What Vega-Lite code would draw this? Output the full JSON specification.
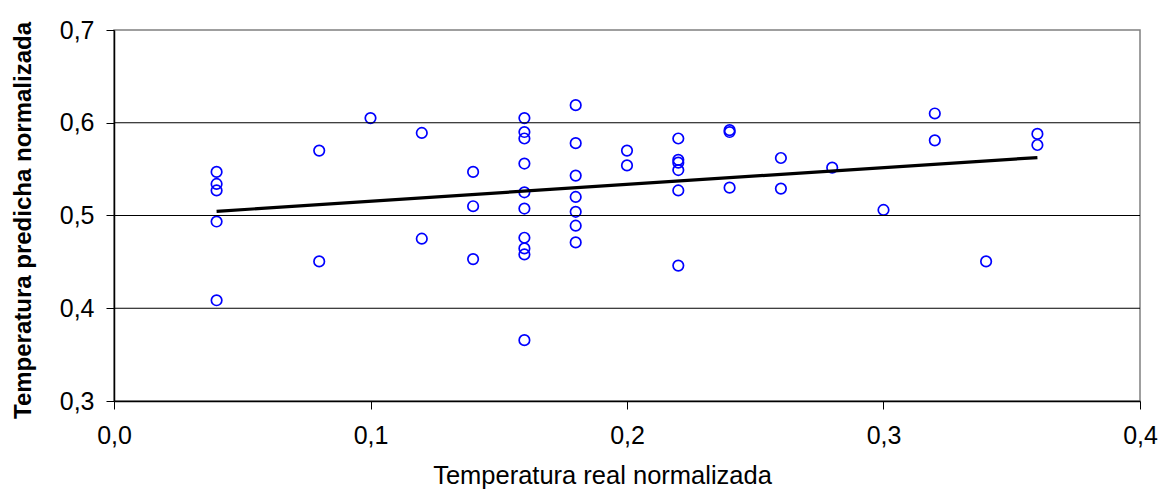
{
  "$schema": "https://vega.github.io/schema/vega-lite/v6.json",
  "width": 1026,
  "height": 371,
  "autosize": {"type": "none"},
  "padding": {"left": 114, "top": 30, "right": 22, "bottom": 90},
  "background": "white",
  "config": {
    "view": {"stroke": "#808080", "strokeWidth": 1.5},
    "font": "Liberation Sans"
  },
  "layer": [
    {
      "data": {"values": [
        {"real": 0.04, "pred": 0.547}, {"real": 0.04, "pred": 0.534}, {"real": 0.04, "pred": 0.527}, {"real": 0.04, "pred": 0.4935}, {"real": 0.04, "pred": 0.4086},
        {"real": 0.08, "pred": 0.570}, {"real": 0.08, "pred": 0.4505},
        {"real": 0.10, "pred": 0.605},
        {"real": 0.12, "pred": 0.589}, {"real": 0.12, "pred": 0.475},
        {"real": 0.14, "pred": 0.547}, {"real": 0.14, "pred": 0.510}, {"real": 0.14, "pred": 0.453},
        {"real": 0.16, "pred": 0.605}, {"real": 0.16, "pred": 0.590}, {"real": 0.16, "pred": 0.583}, {"real": 0.16, "pred": 0.556}, {"real": 0.16, "pred": 0.525}, {"real": 0.16, "pred": 0.5075}, {"real": 0.16, "pred": 0.476}, {"real": 0.16, "pred": 0.4645}, {"real": 0.16, "pred": 0.458}, {"real": 0.16, "pred": 0.3656},
        {"real": 0.18, "pred": 0.619}, {"real": 0.18, "pred": 0.578}, {"real": 0.18, "pred": 0.543}, {"real": 0.18, "pred": 0.520}, {"real": 0.18, "pred": 0.504}, {"real": 0.18, "pred": 0.489}, {"real": 0.18, "pred": 0.471},
        {"real": 0.20, "pred": 0.570}, {"real": 0.20, "pred": 0.554},
        {"real": 0.22, "pred": 0.583}, {"real": 0.22, "pred": 0.560}, {"real": 0.22, "pred": 0.557}, {"real": 0.22, "pred": 0.549}, {"real": 0.22, "pred": 0.527}, {"real": 0.22, "pred": 0.446},
        {"real": 0.24, "pred": 0.592}, {"real": 0.24, "pred": 0.590}, {"real": 0.24, "pred": 0.530},
        {"real": 0.26, "pred": 0.562}, {"real": 0.26, "pred": 0.529},
        {"real": 0.28, "pred": 0.5516},
        {"real": 0.30, "pred": 0.506},
        {"real": 0.32, "pred": 0.610}, {"real": 0.32, "pred": 0.581},
        {"real": 0.34, "pred": 0.4505},
        {"real": 0.36, "pred": 0.588}, {"real": 0.36, "pred": 0.576}
      ]},
      "mark": {"type": "point", "shape": "circle", "filled": false, "color": "#0000FF", "strokeWidth": 1.7, "size": 110, "opacity": 1},
      "encoding": {
        "x": {
          "field": "real", "type": "quantitative",
          "scale": {"domain": [0, 0.4], "nice": false, "zero": false},
          "axis": {
            "title": "Temperatura real normalizada",
            "titleFont": "Liberation Sans", "titleFontSize": 25.5, "titleFontWeight": "normal", "titleColor": "black",
            "titlePadding": 15, "titleX": 488,
            "values": [0, 0.1, 0.2, 0.3, 0.4],
            "labelExpr": "replace(format(datum.value, '.1f'), '.', ',')",
            "labelFont": "Liberation Sans", "labelFontSize": 25, "labelColor": "black", "labelPadding": 14,
            "tickSize": 8, "tickColor": "black", "domainColor": "black", "domainWidth": 1.5,
            "grid": false, "labelFlush": false
          }
        },
        "y": {
          "field": "pred", "type": "quantitative",
          "scale": {"domain": [0.3, 0.7], "nice": false, "zero": false},
          "axis": {
            "title": "Temperatura predicha normalizada",
            "titleFont": "Liberation Sans", "titleFontSize": 24, "titleFontWeight": "bold", "titleColor": "black",
            "titlePadding": 24, "titleY": 190,
            "values": [0.3, 0.4, 0.5, 0.6, 0.7],
            "labelExpr": "replace(format(datum.value, '.1f'), '.', ',')",
            "labelFont": "Liberation Sans", "labelFontSize": 25, "labelColor": "black", "labelPadding": 12,
            "tickSize": 8, "tickColor": "black", "domainColor": "black", "domainWidth": 1.5,
            "grid": false, "labelFlush": false
          }
        }
      }
    },
    {
      "data": {"values": [{"v": 0.4}, {"v": 0.5}, {"v": 0.6}]},
      "mark": {"type": "rule", "color": "black", "strokeWidth": 1},
      "encoding": {"y": {"field": "v", "type": "quantitative"}}
    },
    {
      "data": {"values": [{"real": 0.04, "pred": 0.5045}, {"real": 0.36, "pred": 0.5625}]},
      "mark": {"type": "line", "color": "black", "strokeWidth": 3.2},
      "encoding": {
        "x": {"field": "real", "type": "quantitative"},
        "y": {"field": "pred", "type": "quantitative"}
      }
    }
  ]
}
